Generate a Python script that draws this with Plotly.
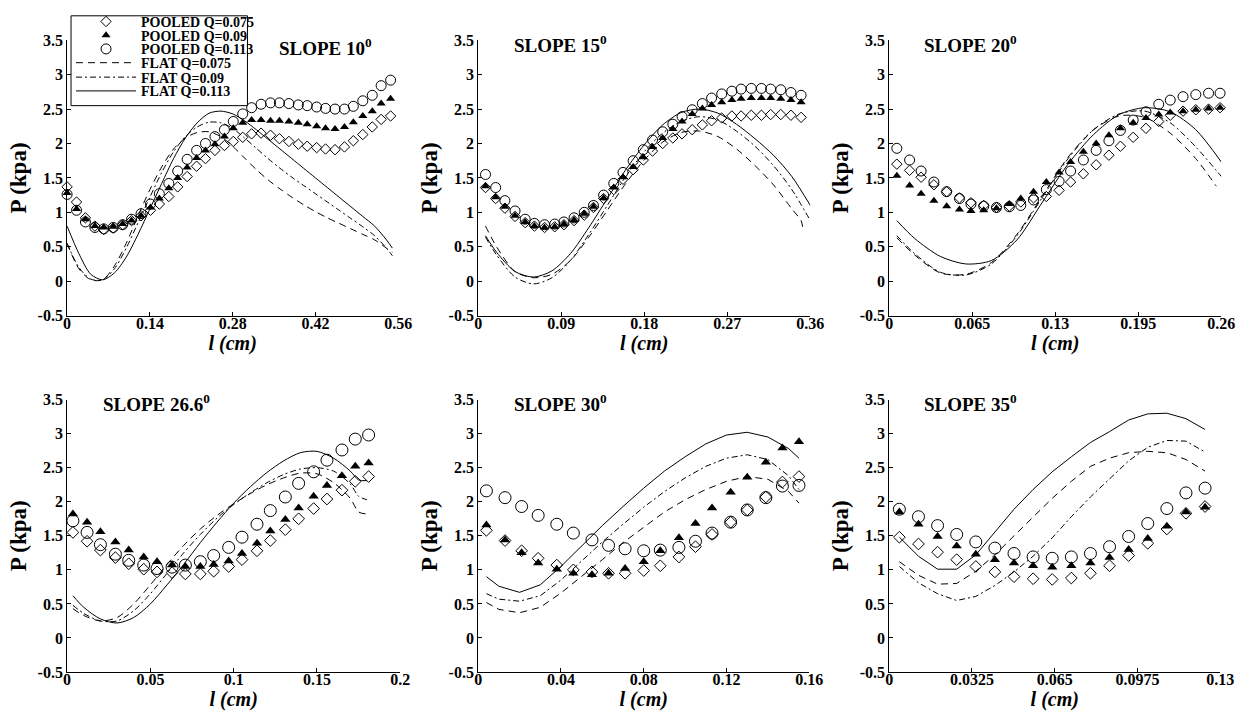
import plotly.graph_objects as go

# ---------------- SLOPE 10 ----------------
p10_x = [0.000, 0.016, 0.031, 0.047, 0.062, 0.078, 0.094, 0.109, 0.125, 0.141, 0.156, 0.172,
         0.187, 0.203, 0.219, 0.234, 0.250, 0.266, 0.281, 0.297, 0.312, 0.328, 0.344, 0.359,
         0.375, 0.391, 0.406, 0.422, 0.437, 0.453, 0.469, 0.484, 0.500, 0.516, 0.531, 0.547]
p10_q075 = [1.37, 1.15, 0.92, 0.80, 0.75, 0.77, 0.82, 0.88, 0.95, 1.03, 1.12, 1.23,
            1.37, 1.52, 1.67, 1.78, 1.90, 1.97, 2.03, 2.09, 2.14, 2.15, 2.12, 2.07,
            2.03, 1.99, 1.96, 1.94, 1.92, 1.91, 1.95, 2.04, 2.13, 2.24, 2.35, 2.40]
p10_q09 = [1.28, 1.05, 0.90, 0.80, 0.78, 0.79, 0.83, 0.88, 0.95, 1.07, 1.20, 1.35,
           1.50, 1.65, 1.79, 1.90, 1.99, 2.10, 2.22, 2.30, 2.34, 2.34, 2.33, 2.33,
           2.32, 2.30, 2.28, 2.25, 2.22, 2.21, 2.24, 2.31, 2.40, 2.47, 2.58, 2.65]
p10_q113 = [1.26, 1.03, 0.86, 0.78, 0.76, 0.78, 0.82, 0.90, 0.98, 1.12, 1.27, 1.42,
            1.60, 1.77, 1.90, 2.00, 2.10, 2.20, 2.32, 2.43, 2.52, 2.57, 2.59, 2.59,
            2.58, 2.56, 2.55, 2.53, 2.51, 2.50, 2.50, 2.54, 2.62, 2.70, 2.84, 2.92]
f10_x = [0.00, 0.02, 0.04, 0.06, 0.08, 0.10, 0.12, 0.14, 0.16, 0.18, 0.20, 0.22, 0.24, 0.26,
         0.28, 0.30, 0.32, 0.34, 0.36, 0.38, 0.40, 0.42, 0.44, 0.46, 0.48, 0.50, 0.52, 0.54, 0.55]
f10_q075 = [0.55, 0.18, 0.02, 0.02, 0.22, 0.55, 0.95, 1.33, 1.66, 1.92, 2.08, 2.16, 2.17, 2.10,
            1.96, 1.79, 1.62, 1.47, 1.34, 1.22, 1.11, 1.01, 0.92, 0.84, 0.76, 0.68, 0.60, 0.48, 0.42]
f10_q09 = [0.55, 0.20, 0.03, 0.02, 0.18, 0.48, 0.85, 1.22, 1.58, 1.88, 2.10, 2.24, 2.31, 2.30,
           2.22, 2.08, 1.93, 1.78, 1.64, 1.51, 1.39, 1.27, 1.15, 1.03, 0.91, 0.79, 0.66, 0.48, 0.37]
f10_q113 = [0.80, 0.40, 0.10, 0.02, 0.12, 0.35, 0.68, 1.05, 1.42, 1.78, 2.08, 2.30, 2.44, 2.47,
            2.43, 2.33, 2.20, 2.06, 1.92, 1.78, 1.64, 1.50, 1.36, 1.22, 1.08, 0.94, 0.80, 0.60, 0.48]

# ---------------- SLOPE 15 ----------------
p15_x = [0.008, 0.019, 0.029, 0.040, 0.051, 0.061, 0.072, 0.083, 0.093, 0.104, 0.115, 0.125,
         0.136, 0.147, 0.157, 0.168, 0.179, 0.189, 0.200, 0.211, 0.221, 0.232, 0.243, 0.253,
         0.264, 0.275, 0.285, 0.296, 0.307, 0.317, 0.328, 0.339, 0.350]
p15_q075 = [1.36, 1.20, 1.06, 0.94, 0.85, 0.80, 0.78, 0.79, 0.82, 0.88, 0.96, 1.07,
            1.20, 1.33, 1.48, 1.62, 1.76, 1.89, 2.00, 2.08, 2.14, 2.20, 2.27, 2.33,
            2.37, 2.40, 2.40, 2.41, 2.41, 2.42, 2.42, 2.41, 2.38]
p15_q09 = [1.38, 1.22, 1.08, 0.95, 0.86, 0.80, 0.78, 0.79, 0.83, 0.89, 0.98, 1.08,
           1.21, 1.36, 1.51, 1.66, 1.80, 1.95, 2.08, 2.21, 2.32, 2.43, 2.51, 2.56,
           2.60, 2.63, 2.65, 2.66, 2.66, 2.66, 2.65, 2.63, 2.60]
p15_q113 = [1.55, 1.36, 1.17, 1.02, 0.90, 0.84, 0.82, 0.83, 0.86, 0.92, 1.00, 1.10,
            1.25, 1.42, 1.58, 1.75, 1.91, 2.05, 2.17, 2.28, 2.39, 2.49, 2.58, 2.66,
            2.72, 2.76, 2.79, 2.80, 2.80, 2.79, 2.78, 2.74, 2.70]
f15_x = [0.008, 0.02, 0.04, 0.06, 0.08, 0.10, 0.12, 0.14, 0.16, 0.18, 0.20, 0.22, 0.24,
         0.26, 0.28, 0.30, 0.32, 0.34, 0.36]
f15_q09 = [0.64, 0.38, 0.06, -0.04, 0.05, 0.30, 0.68, 1.10, 1.52, 1.88, 2.15, 2.32, 2.39,
           2.34, 2.18, 1.96, 1.68, 1.33, 0.88]
f15_q113 = [0.66, 0.42, 0.14, 0.06, 0.15, 0.40, 0.78, 1.20, 1.62, 1.98, 2.27, 2.45, 2.50,
            2.44, 2.28, 2.07, 1.83, 1.52, 1.10]
f15_x075 = [0.008, 0.02, 0.04, 0.06, 0.08, 0.10, 0.12, 0.14, 0.16, 0.18, 0.20, 0.22, 0.24,
            0.26, 0.28, 0.30, 0.32, 0.34, 0.35, 0.352]
f15_q075 = [0.80, 0.50, 0.14, 0.05, 0.10, 0.30, 0.64, 1.03, 1.42, 1.76, 2.02, 2.16, 2.18,
            2.10, 1.92, 1.68, 1.40, 1.05, 0.88, 0.76]

# ---------------- SLOPE 20 ----------------
p20_x = [0.006, 0.016, 0.025, 0.035, 0.045, 0.055, 0.064, 0.074, 0.084, 0.094, 0.103, 0.113,
         0.123, 0.133, 0.142, 0.152, 0.162, 0.172, 0.181, 0.191, 0.201, 0.211, 0.220, 0.230,
         0.240, 0.250, 0.259]
p20_q075 = [1.70, 1.61, 1.51, 1.40, 1.30, 1.21, 1.14, 1.10, 1.07, 1.09, 1.15, 1.21,
            1.23, 1.32, 1.44, 1.56, 1.69, 1.83, 1.96, 2.09, 2.22, 2.32, 2.41, 2.47,
            2.49, 2.50, 2.52]
p20_q09 = [1.53, 1.39, 1.27, 1.17, 1.09, 1.04, 1.02, 1.03, 1.06, 1.12, 1.20, 1.30,
           1.44, 1.58, 1.73, 1.88, 2.00, 2.12, 2.22, 2.30, 2.37, 2.42, 2.45, 2.47,
           2.49, 2.51, 2.52]
p20_q113 = [1.93, 1.76, 1.60, 1.44, 1.30, 1.20, 1.12, 1.09, 1.07, 1.08, 1.10, 1.18,
            1.33, 1.45, 1.60, 1.76, 1.90, 2.04, 2.19, 2.34, 2.46, 2.57, 2.63, 2.68,
            2.71, 2.73, 2.73]
f20_x = [0.006, 0.02, 0.04, 0.06, 0.08, 0.10, 0.12, 0.14, 0.16, 0.18, 0.20, 0.22, 0.24, 0.26]
f20_q09 = [0.66, 0.40, 0.13, 0.09, 0.25, 0.66, 1.22, 1.78, 2.20, 2.43, 2.47, 2.30, 1.95, 1.52]
f20_q113 = [0.88, 0.62, 0.36, 0.25, 0.30, 0.60, 1.15, 1.70, 2.13, 2.42, 2.52, 2.46, 2.20, 1.73]
f20_x075 = [0.006, 0.02, 0.04, 0.06, 0.08, 0.10, 0.12, 0.14, 0.16, 0.18, 0.20, 0.22, 0.24, 0.256]
f20_q075 = [0.63, 0.38, 0.12, 0.10, 0.27, 0.68, 1.24, 1.80, 2.20, 2.40, 2.38, 2.15, 1.78, 1.38]

# ---------------- SLOPE 26.6 ----------------
p26_x = [0.0035, 0.012, 0.020, 0.029, 0.037, 0.046, 0.054, 0.063, 0.071, 0.080, 0.088,
         0.097, 0.105, 0.114, 0.122, 0.131, 0.139, 0.148, 0.156, 0.165, 0.173, 0.181]
p26_q075 = [1.55, 1.42, 1.29, 1.18, 1.09, 1.01, 0.97, 0.96, 0.94, 0.94, 0.98,
            1.05, 1.15, 1.28, 1.43, 1.59, 1.75, 1.90, 2.04, 2.17, 2.30, 2.37]
p26_q09 = [1.82, 1.70, 1.56, 1.41, 1.29, 1.19, 1.12, 1.07, 1.05, 1.05, 1.08,
           1.13, 1.24, 1.39, 1.57, 1.74, 1.91, 2.08, 2.24, 2.38, 2.52, 2.57]
p26_q113 = [1.72, 1.55, 1.37, 1.23, 1.14, 1.07, 1.02, 1.04, 1.07, 1.12, 1.21,
            1.33, 1.48, 1.67, 1.87, 2.07, 2.27, 2.44, 2.61, 2.76, 2.92, 2.98]
f26_x = [0.0035, 0.01, 0.02, 0.03, 0.04, 0.05, 0.06, 0.07, 0.08, 0.09, 0.10, 0.11, 0.12,
         0.13, 0.14, 0.15, 0.16, 0.17, 0.175, 0.18]
f26_q075 = [0.43, 0.33, 0.25, 0.30, 0.50, 0.78, 1.08, 1.36, 1.60, 1.80, 1.97, 2.12, 2.25,
            2.35, 2.42, 2.41, 2.28, 2.05, 1.85, 1.82]
f26_q09 = [0.48, 0.36, 0.25, 0.25, 0.40, 0.65, 0.95, 1.25, 1.52, 1.76, 1.96, 2.13, 2.28,
           2.40, 2.48, 2.50, 2.45, 2.26, 2.08, 2.03]
f26_q113 = [0.62, 0.45, 0.28, 0.22, 0.30, 0.50, 0.78, 1.08, 1.40, 1.70, 1.98, 2.22, 2.43,
            2.60, 2.72, 2.74, 2.64, 2.45, 2.32, 2.31]

# ---------------- SLOPE 30 ----------------
p30_x = [0.004, 0.013, 0.021, 0.029, 0.038, 0.046, 0.055, 0.063, 0.071, 0.080, 0.088,
         0.097, 0.105, 0.113, 0.122, 0.130, 0.139, 0.147, 0.155]
p30_q075 = [1.58, 1.43, 1.28, 1.17, 1.07, 1.00, 0.97, 0.95, 0.95, 0.99, 1.06,
            1.19, 1.34, 1.52, 1.70, 1.88, 2.07, 2.29, 2.37]
p30_q09 = [1.66, 1.44, 1.25, 1.10, 1.01, 0.95, 0.93, 0.95, 1.02, 1.12, 1.28,
           1.47, 1.68, 1.91, 2.14, 2.36, 2.58, 2.79, 2.88]
p30_q113 = [2.16, 2.06, 1.93, 1.80, 1.67, 1.54, 1.44, 1.36, 1.31, 1.28, 1.29,
            1.33, 1.42, 1.54, 1.70, 1.88, 2.06, 2.23, 2.24]
f30_x = [0.004, 0.01, 0.02, 0.03, 0.04, 0.05, 0.06, 0.07, 0.08, 0.09, 0.10, 0.11, 0.12,
         0.13, 0.14, 0.15, 0.155]
f30_q075 = [0.52, 0.42, 0.37, 0.45, 0.66, 0.90, 1.15, 1.40, 1.63, 1.85, 2.03, 2.18, 2.30,
            2.37, 2.33, 2.15, 1.98]
f30_q09 = [0.65, 0.57, 0.54, 0.62, 0.85, 1.13, 1.41, 1.67, 1.92, 2.15, 2.35, 2.52, 2.64,
           2.69, 2.62, 2.38, 2.18]
f30_q113 = [0.90, 0.76, 0.67, 0.78, 1.05, 1.35, 1.65, 1.93, 2.20, 2.45, 2.66, 2.85, 2.98,
            3.02, 2.95, 2.78, 2.64]

# ---------------- SLOPE 35 ----------------
p35_x = [0.004, 0.0115, 0.019, 0.0265, 0.034, 0.0415, 0.049, 0.0565, 0.064, 0.0715,
         0.079, 0.0865, 0.094, 0.1015, 0.109, 0.1165, 0.124]
p35_q075 = [1.48, 1.38, 1.26, 1.15, 1.05, 0.97, 0.90, 0.87, 0.86, 0.88,
            0.95, 1.06, 1.21, 1.39, 1.60, 1.83, 1.93]
p35_q09 = [1.85, 1.67, 1.49, 1.35, 1.23, 1.15, 1.10, 1.06, 1.04, 1.06,
           1.10, 1.18, 1.30, 1.46, 1.64, 1.85, 1.92]
p35_q113 = [1.89, 1.78, 1.65, 1.52, 1.41, 1.32, 1.24, 1.19, 1.17, 1.19,
            1.24, 1.34, 1.49, 1.68, 1.90, 2.13, 2.20]
f35_x = p35_x
f35_q075 = [1.12, 0.92, 0.79, 0.80, 0.98, 1.22, 1.50, 1.78, 2.05, 2.30,
            2.52, 2.64, 2.72, 2.74, 2.72, 2.62, 2.45]
f35_q09 = [1.05, 0.81, 0.65, 0.55, 0.61, 0.77, 0.97, 1.20, 1.47, 1.78,
           2.07, 2.34, 2.60, 2.80, 2.90, 2.89, 2.73]
f35_q113 = [1.48, 1.20, 1.01, 1.01, 1.22, 1.55, 1.89, 2.18, 2.44, 2.66,
            2.87, 3.03, 3.20, 3.29, 3.30, 3.22, 3.06]

# axis tick labels
y_ticks = [-0.5, 0, 0.5, 1, 1.5, 2, 2.5, 3, 3.5]
y_labels = ["-0.5", "0", "0.5", "1", "1.5", "2", "2.5", "3", "3.5"]
x_ticks = {
    10: ["0", "0.14", "0.28", "0.42", "0.56"],
    15: ["0", "0.09", "0.18", "0.27", "0.36"],
    20: ["0", "0.065", "0.13", "0.195", "0.26"],
    26.6: ["0", "0.05", "0.1", "0.15", "0.2"],
    30: ["0", "0.04", "0.08", "0.12", "0.16"],
    35: ["0", "0.0325", "0.065", "0.0975", "0.13"],
}
slope_titles = ["10", "15", "20", "26.6", "30", "35"]
q_labels = ["Q=0.075", "Q=0.09", "Q=0.113"]

panels = [
    (10, p10_x, [p10_q075, p10_q09, p10_q113],
     [(f10_x, f10_q075), (f10_x, f10_q09), (f10_x, f10_q113)], "spline"),
    (15, p15_x, [p15_q075, p15_q09, p15_q113],
     [(f15_x075, f15_q075), (f15_x, f15_q09), (f15_x, f15_q113)], "spline"),
    (20, p20_x, [p20_q075, p20_q09, p20_q113],
     [(f20_x075, f20_q075), (f20_x, f20_q09), (f20_x, f20_q113)], "spline"),
    (26.6, p26_x, [p26_q075, p26_q09, p26_q113],
     [(f26_x, f26_q075), (f26_x, f26_q09), (f26_x, f26_q113)], "spline"),
    (30, p30_x, [p30_q075, p30_q09, p30_q113],
     [(f30_x, f30_q075), (f30_x, f30_q09), (f30_x, f30_q113)], "linear"),
    (35, p35_x, [p35_q075, p35_q09, p35_q113],
     [(f35_x, f35_q075), (f35_x, f35_q09), (f35_x, f35_q113)], "linear"),
]

W, H = 1260, 724
FONT = "Liberation Serif"

# plot-area boxes in pixels: (left, right, top, bottom)
boxes = [
    (64, 400, 33, 315), (481, 818, 33, 315), (898, 1235, 33, 315),
    (64, 402, 401, 680), (481, 817, 401, 680), (898, 1234, 401, 680),
]
title_pos = [(277, 40), (515, 37), (931, 37), (98, 405), (515, 405), (931, 405)]

# marker sizes per row: top row slightly smaller
marker_sizes = [(8, 8, 10), (8, 8, 10), (8, 8, 10), (9, 9, 12), (9, 9, 12), (9, 9, 12)]
dashes = ["7px,5px", "6px,3px,2px,3px", "solid"]

# legend rows (one single-entry legend per row so the rows can sit tight)
legend_box = (68, 247, 8, 100)
legend_rows = [14.2, 28.2, 42.3, 56.4, 71.2, 85.3]
legend_ids = ["legend", "legend2", "legend3", "legend4", "legend5", "legend6"]


def marker_style(k, sizes):
    if k == 0:
        return dict(symbol="diamond-open", size=sizes[0], color="black",
                    line=dict(width=1, color="black"))
    if k == 1:
        return dict(symbol="triangle-up", size=sizes[1], color="black", line=dict(width=0))
    return dict(symbol="circle-open", size=sizes[2], color="black",
                line=dict(width=1, color="black"))


fig = go.Figure()
layout = {}
annotations = []

for i, (slope, px, pys, flats, shape) in enumerate(panels):
    n = "" if i == 0 else str(i + 1)
    xa, ya = "x" + n, "y" + n
    first = i == 0
    for k in range(3):
        fig.add_trace(go.Scatter(
            x=px, y=pys[k], mode="markers", marker=marker_style(k, marker_sizes[i]),
            name="POOLED " + q_labels[k], xaxis=xa, yaxis=ya,
            showlegend=first, legend=legend_ids[k], cliponaxis=False))
    for k in range(3):
        fx, fy = flats[k]
        fig.add_trace(go.Scatter(
            x=fx, y=fy, mode="lines",
            line=dict(color="black", width=1, dash=dashes[k], shape=shape, smoothing=0.8),
            name="FLAT " + q_labels[k], xaxis=xa, yaxis=ya,
            showlegend=first, legend=legend_ids[k + 3], cliponaxis=False))

    l, r, t, b = boxes[i]
    labels = x_ticks[slope]
    xmax = float(labels[-1])
    layout["xaxis" + n] = dict(
        domain=[l / W, r / W], anchor=ya, range=[0, xmax],
        tickvals=[float(v) for v in labels], ticktext=labels,
        ticks="inside", ticklen=4, tickcolor="black", ticklabelstandoff=-7,
        showline=True, linecolor="black", linewidth=1, mirror=False,
        showgrid=False, zeroline=False,
        tickfont=dict(family=FONT, size=16, color="black", weight="bold"),
        title=dict(text="l (cm)", standoff=0,
                   font=dict(family=FONT, size=20, color="black", weight="bold", style="italic")),
    )
    layout["yaxis" + n] = dict(
        domain=[1 - b / H, 1 - t / H], anchor=xa, range=[-0.5, 3.5],
        tickvals=y_ticks, ticktext=y_labels,
        ticks="inside", ticklen=4, tickcolor="black",
        showline=True, linecolor="black", linewidth=1, mirror=False,
        showgrid=False, zeroline=False,
        tickfont=dict(family=FONT, size=16, color="black", weight="bold"),
        title=dict(text="P (kpa)", standoff=4,
                   font=dict(family=FONT, size=23, color="black", weight="bold")),
    )
    tx, ty = title_pos[i]
    annotations.append(dict(
        x=tx / W, y=1 - ty / H, xref="paper", yref="paper",
        xanchor="left", yanchor="middle", showarrow=False,
        text="SLOPE " + slope_titles[i] + "<sup>0</sup>",
        font=dict(family=FONT, size=19, color="black", weight="bold")))

for j, lid in enumerate(legend_ids):
    layout[lid] = dict(
        x=legend_box[0] / W, y=1 - legend_rows[j] / H, xanchor="left", yanchor="middle",
        bgcolor="rgba(0,0,0,0)", borderwidth=0,
        font=dict(family=FONT, size=14, color="black", weight="bold"),
        itemwidth=60,
    )

lx0, lx1, ly0, ly1 = legend_box
fig.update_layout(
    width=W, height=H, margin=dict(l=0, r=0, t=0, b=0),
    paper_bgcolor="white", plot_bgcolor="white",
    font=dict(family=FONT, color="black", weight="bold"),
    showlegend=True,
    annotations=annotations,
    shapes=[dict(type="rect", xref="paper", yref="paper",
                 x0=lx0 / W, x1=lx1 / W, y0=1 - ly1 / H, y1=1 - ly0 / H,
                 fillcolor="white", line=dict(color="black", width=1), layer="above")],
    **layout,
)

fig.write_html("out.html")
